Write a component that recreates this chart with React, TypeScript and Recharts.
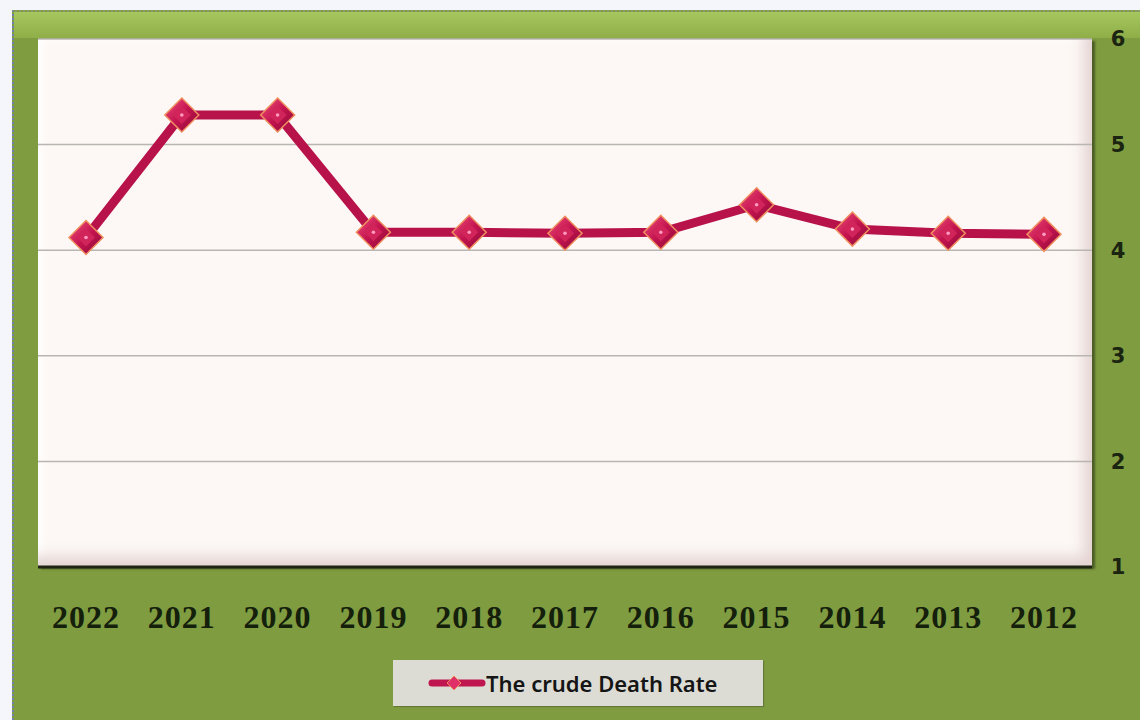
import React from "react";
import { LineChart, Line, XAxis, YAxis, CartesianGrid } from "recharts";

const years = ["2022", "2021", "2020", "2019", "2018", "2017", "2016", "2015", "2014", "2013", "2012"];
const deathRate = [4.12, 5.28, 5.28, 4.17, 4.17, 4.16, 4.17, 4.43, 4.2, 4.16, 4.15];
const yTicks = [1, 2, 3, 4, 5, 6];
const seriesName = "The crude Death Rate";

const data = years.map((y, i) => ({ year: y, rate: deathRate[i] }));

const Diamond = (props: any) => {
  const { cx, cy, index } = props;
  if (cx == null || cy == null) return null;
  const r = 17;
  return (
    <g key={`d-${index}`}>
      <polygon
        points={`${cx},${cy - r} ${cx + r},${cy} ${cx},${cy + r} ${cx - r},${cy}`}
        fill="url(#diamondGrad)"
        stroke="#f09060"
        strokeWidth={1.5}
      />
      <polygon
        points={`${cx},${cy - 9} ${cx + 9},${cy} ${cx},${cy + 9} ${cx - 9},${cy}`}
        fill="#d0245a"
      />
      <circle cx={cx} cy={cy} r={1.8} fill="#ff9ac0" />
    </g>
  );
};

export default function App() {
  return (
    <div style={{ position: "relative", width: 1140, height: 720, background: "#f4f6fb", overflow: "hidden" }}>
      <style>{`body{margin:0}`}</style>
      <div
        style={{
          position: "absolute",
          left: 12,
          top: 10,
          width: 1128,
          height: 710,
          background: "#7f9c40",
          borderLeft: "2px dotted #6f7fb0",
          borderTop: "2px dotted #8a9a70",
          boxSizing: "border-box",
        }}
      />
      <div
        style={{
          position: "absolute",
          left: 14,
          top: 12,
          width: 1126,
          height: 26,
          background: "linear-gradient(#a6c65e, #8fae48)",
        }}
      />
      <div
        style={{
          position: "absolute",
          left: 38,
          top: 39,
          width: 1054,
          height: 528,
          background: "#fdf8f5",
          boxShadow:
            "inset -16px -18px 14px -8px rgba(205,180,180,0.55), inset 10px 6px 10px -6px rgba(255,255,255,0.9), 3px 2px 2px rgba(40,50,20,0.6)",
        }}
      />
      <div
        style={{
          position: "absolute",
          left: 393,
          top: 660,
          width: 370,
          height: 46,
          background: "#dcdcd5",
          boxShadow: "1px 1px 1px rgba(60,70,40,0.4)",
          display: "flex",
          alignItems: "center",
        }}
      >
        <svg width={58} height={20} style={{ marginLeft: 35, flex: "none" }}>
          <line x1={4} y1={10} x2={54} y2={10} stroke="#c0164f" strokeWidth={7} strokeLinecap="round" />
          <polygon points="26,3 33,10 26,17 19,10" fill="#e0306a" stroke="#f08a5a" strokeWidth={1} />
        </svg>
        <span
          style={{
            fontFamily: "'Noto Sans', 'Open Sans', sans-serif",
            fontWeight: 600,
            fontSize: 22,
            color: "#151515",
            whiteSpace: "nowrap",
          }}
        >
          {seriesName}
        </span>
      </div>
      <div style={{ position: "absolute", left: 0, top: 0 }}>
        <LineChart width={1140} height={720} data={data} margin={{ top: 39, right: 0, left: 38, bottom: 0 }}>
          <defs>
            <linearGradient id="diamondGrad" x1="0" y1="0" x2="1" y2="1">
              <stop offset="0%" stopColor="#f0507c" />
              <stop offset="50%" stopColor="#c41450" />
              <stop offset="100%" stopColor="#8a0a35" />
            </linearGradient>
          </defs>
          <CartesianGrid vertical={false} stroke="#b9b5b0" strokeWidth={1.5} />
          <XAxis
            dataKey="year"
            padding={{ left: 48, right: 48 }}
            axisLine={{ stroke: "#1e2312", strokeWidth: 3 }}
            tickLine={false}
            height={153}
            interval={0}
            tick={{
              fill: "#14200c",
              fontSize: 32,
              fontWeight: 700,
              letterSpacing: 1,
              fontFamily: "'Liberation Serif', 'Times New Roman', serif",
              dy: 30,
            }}
          />
          <YAxis
            orientation="right"
            domain={[1, 6]}
            ticks={yTicks}
            width={48}
            axisLine={false}
            tickLine={false}
            interval={0}
            tick={{
              fill: "#1a2410",
              fontSize: 21,
              fontWeight: 700,
              fontFamily: "'DejaVu Sans', Verdana, sans-serif",
              dx: 18,
              textAnchor: "middle",
            }}
          />
          <Line
            type="linear"
            dataKey="rate"
            name={seriesName}
            stroke="#b8124b"
            strokeWidth={9}
            dot={<Diamond />}
            activeDot={false}
            isAnimationActive={false}
          />
        </LineChart>
      </div>
    </div>
  );
}
